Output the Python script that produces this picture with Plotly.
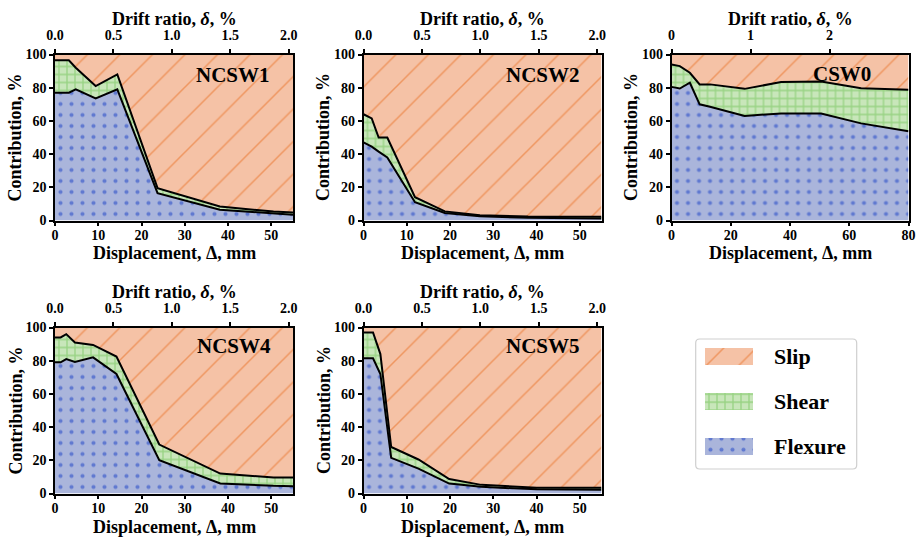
import numpy as np
import plotly.graph_objects as go

# ------------------------------------------------------------------ data
NCSW1_disp = [0, 3.2, 4.8, 9.4, 14.4, 23.7, 38.1, 50.5, 55]
NCSW1_flexure = [77, 77, 79, 73.5, 79, 16.5, 6.5, 4.0, 3.5]
NCSW1_shear = [19.5, 19.5, 13, 7.5, 9, 3.0, 1.9, 1.4, 1.3]

NCSW2_disp = [0, 1.9, 3.5, 5.5, 11.9, 18.8, 26.9, 38, 55]
NCSW2_flexure = [47, 44.5, 41.5, 38, 11, 4.5, 2.5, 1.6, 1.2]
NCSW2_shear = [17, 17, 8.5, 12, 3, 1.0, 0.7, 0.8, 1.0]

CSW0_disp = [0, 2.8, 6.2, 9.5, 13, 24.7, 37, 50.5, 64, 80]
CSW0_flexure = [80.5, 79.5, 83, 70, 68.5, 63, 64.5, 64.5, 58.5, 53.8]
CSW0_shear = [13.5, 13.5, 6, 12, 13.5, 16.3, 18.9, 19.3, 21.2, 24.9]

NCSW4_disp = [0, 1.3, 2.6, 4.6, 8.8, 14.2, 24.1, 38.2, 50.5, 55]
NCSW4_flexure = [79, 79, 81, 79.3, 82, 72, 20, 6, 4.6, 4.4]
NCSW4_shear = [15, 15, 15, 11.7, 7.5, 10.5, 9.5, 6, 5, 5.2]

NCSW5_disp = [0, 2.2, 3.9, 6.4, 12.7, 19.8, 27.2, 40, 55]
NCSW5_flexure = [81.5, 81.5, 72, 21.5, 15, 6, 4, 2.5, 2.2]
NCSW5_shear = [15.5, 15.5, 12, 6.5, 5.5, 2.7, 1.2, 1.0, 1.2]

NCSW_disp_ticks = [0, 10, 20, 30, 40, 50]
CSW0_disp_ticks = [0, 20, 40, 60, 80]
NCSW_drift_ticks = [0, 0.5, 1.0, 1.5, 2.0]
CSW0_drift_ticks = [0, 1, 2, 3]
contribution_ticks = [0, 20, 40, 60, 80, 100]

legend_labels = ["Slip", "Shear", "Flexure"]
legend_bar_value = [1, 1, 1]

# ------------------------------------------------------------------ style
W, H = 921, 543
FONT = "Liberation Serif"

STYLE = {
    "Flexure": dict(bg="#AAB5DB", fg="#6079D0", shape=".", size=11, solidity=0.11, lw=2),
    "Shear": dict(bg="#C8E6BA", fg="#98D383", shape="+", size=8, solidity=0.3, lw=2),
    "Slip": dict(bg="#F5C2A6", fg="#EF9660", shape="/", size=23, solidity=0.065, lw=0),
}

panels = [
    dict(name="NCSW1", disp=NCSW1_disp, flex=NCSW1_flexure, shear=NCSW1_shear,
         xmax=55, xticks=NCSW_disp_ticks, dticks=NCSW_drift_ticks, wallH=2700,
         dfmt=".1f", box=(55, 54.5, 293, 220.5), label_xy=(272, 75)),
    dict(name="NCSW2", disp=NCSW2_disp, flex=NCSW2_flexure, shear=NCSW2_shear,
         xmax=55, xticks=NCSW_disp_ticks, dticks=NCSW_drift_ticks, wallH=2700,
         dfmt=".1f", box=(363.5, 54.5, 601.5, 220.5), label_xy=(582, 75)),
    dict(name="CSW0", disp=CSW0_disp, flex=CSW0_flexure, shear=CSW0_shear,
         xmax=80, xticks=CSW0_disp_ticks, dticks=CSW0_drift_ticks, wallH=2667,
         dfmt="d", box=(671.5, 54.5, 908.5, 220.5), label_xy=(873, 74)),
    dict(name="NCSW4", disp=NCSW4_disp, flex=NCSW4_flexure, shear=NCSW4_shear,
         xmax=55, xticks=NCSW_disp_ticks, dticks=NCSW_drift_ticks, wallH=2700,
         dfmt=".1f", box=(55, 327.5, 293, 493.5), label_xy=(273, 346)),
    dict(name="NCSW5", disp=NCSW5_disp, flex=NCSW5_flexure, shear=NCSW5_shear,
         xmax=55, xticks=NCSW_disp_ticks, dticks=NCSW_drift_ticks, wallH=2700,
         dfmt=".1f", box=(363.5, 327.5, 601.5, 493.5), label_xy=(582, 346)),
]


def px(x):
    return x / W


def py(y):
    return 1 - y / H


def pattern(comp):
    s = STYLE[comp]
    return dict(shape=s["shape"], fgcolor=s["fg"], bgcolor=s["bg"], size=s["size"],
                solidity=s["solidity"], fillmode="replace")


fig = go.Figure()
layout = dict()
annotations = []

tickfont = dict(family=FONT, size=14, color="black", weight="bold")
titlefont = dict(family=FONT, size=18, color="black", weight="bold")

for i, p in enumerate(panels, start=1):
    xa = "x" if i == 1 else f"x{i}"
    ya = "y" if i == 1 else f"y{i}"
    xt = f"x{i + 5}"
    flex = np.array(p["flex"], dtype=float)
    shear = np.array(p["shear"], dtype=float)
    slip = 100.0 - flex - shear
    for comp, vals in (("Flexure", flex), ("Shear", shear), ("Slip", slip)):
        st = STYLE[comp]
        fig.add_trace(go.Scatter(
            x=p["disp"], y=vals, xaxis=xa, yaxis=ya, stackgroup=f"s{i}",
            mode="lines", line=dict(color="black", width=st["lw"]),
            fillcolor=st["bg"], fillpattern=pattern(comp),
            showlegend=False, hoverinfo="skip", name=comp))
    # invisible companion trace so the drift-ratio (top) axis is rendered
    drift = np.array(p["disp"], dtype=float) / p["wallH"] * 100
    fig.add_trace(go.Scatter(x=drift, y=flex, xaxis=xt, yaxis=ya, mode="lines",
                             line=dict(width=0), opacity=0, showlegend=False,
                             hoverinfo="skip"))

    x0, y0, x1, y1 = p["box"]
    xdom = [px(x0), px(x1)]
    ydom = [py(y1), py(y0)]
    common = dict(showline=True, linecolor="black", linewidth=1.5, ticks="outside",
                  ticklen=4, tickwidth=1.5, tickcolor="black", tickfont=tickfont,
                  showgrid=False, zeroline=False, automargin=False)
    layout["xaxis" if i == 1 else f"xaxis{i}"] = dict(
        domain=xdom, anchor=ya, range=[0, p["xmax"]], tickvals=p["xticks"],
        mirror=True, ticklabelstandoff=-3, **common)
    layout["yaxis" if i == 1 else f"yaxis{i}"] = dict(
        domain=ydom, anchor=xa, range=[0, 100], tickvals=contribution_ticks,
        mirror=True, **common)
    layout[f"xaxis{i + 5}"] = dict(
        overlaying=xa, anchor=ya, side="top",
        range=[0, p["xmax"] / p["wallH"] * 100], tickvals=p["dticks"],
        tickformat=p["dfmt"], ticklabelstandoff=3, **common)

    # axis titles
    annotations.append(dict(text="Displacement, Δ, mm", x=px((x0 + x1) / 2), y=py(y1 + 33),
                            xref="paper", yref="paper", xanchor="center", yanchor="middle",
                            showarrow=False, font=titlefont))
    annotations.append(dict(text="Drift ratio, <i>δ</i>, %", x=px((x0 + x1) / 2), y=py(y0 - 35.5),
                            xref="paper", yref="paper", xanchor="center", yanchor="middle",
                            showarrow=False, font=titlefont))
    annotations.append(dict(text="Contribution, %", x=px(x0 - 40), y=py((y0 + y1) / 2),
                            xref="paper", yref="paper", xanchor="center", yanchor="middle",
                            textangle=-90, showarrow=False, font=titlefont))
    lx, ly = p["label_xy"]
    annotations.append(dict(text=p["name"], x=px(lx), y=py(ly), xref="paper", yref="paper",
                            xanchor="right", yanchor="middle", showarrow=False,
                            font=dict(family=FONT, size=21, color="black", weight="bold")))

# ------------------------------------------------------------------ legend
for lab, val in zip(legend_labels, legend_bar_value):
    fig.add_trace(go.Bar(
        x=[val], y=[lab], orientation="h", xaxis="x11", yaxis="y11", width=0.38,
        marker=dict(color=STYLE[lab]["bg"], line=dict(width=0), pattern=pattern(lab)),
        showlegend=False, hoverinfo="skip"))
    annotations.append(dict(text=lab, x=px(772), y=lab, xref="paper", yref="y11",
                            xanchor="left", yanchor="middle", showarrow=False,
                            font=dict(family=FONT, size=22, color="black", weight="bold")))

layout["xaxis11"] = dict(domain=[px(705), px(753)], anchor="y11", range=[0, 1],
                         visible=False, fixedrange=True, automargin=False)
layout["yaxis11"] = dict(domain=[py(469.2), py(334.2)], anchor="x11", type="category",
                         categoryorder="array", categoryarray=legend_labels,
                         range=[2.5, -0.5], visible=False, fixedrange=True, automargin=False)

bx0, by0, bx1, by1, r = 695.7, 339, 856.7, 469, 4
path = (f"M{px(bx0 + r)},{py(by0)} L{px(bx1 - r)},{py(by0)} Q{px(bx1)},{py(by0)} {px(bx1)},{py(by0 + r)} "
        f"L{px(bx1)},{py(by1 - r)} Q{px(bx1)},{py(by1)} {px(bx1 - r)},{py(by1)} "
        f"L{px(bx0 + r)},{py(by1)} Q{px(bx0)},{py(by1)} {px(bx0)},{py(by1 - r)} "
        f"L{px(bx0)},{py(by0 + r)} Q{px(bx0)},{py(by0)} {px(bx0 + r)},{py(by0)} Z")

fig.update_layout(
    width=W, height=H, margin=dict(l=0, r=0, t=0, b=0),
    paper_bgcolor="white", plot_bgcolor="white",
    font=dict(family=FONT, color="black"),
    annotations=annotations,
    shapes=[dict(type="path", path=path, xref="paper", yref="paper",
                 line=dict(color="#cfcfcf", width=1.2), fillcolor="white", layer="below")],
    bargap=0,
    **layout,
)

fig.write_html("out.html", config={"displayModeBar": False},
               post_script="document.body.style.margin='0';document.body.style.overflow='hidden';")
